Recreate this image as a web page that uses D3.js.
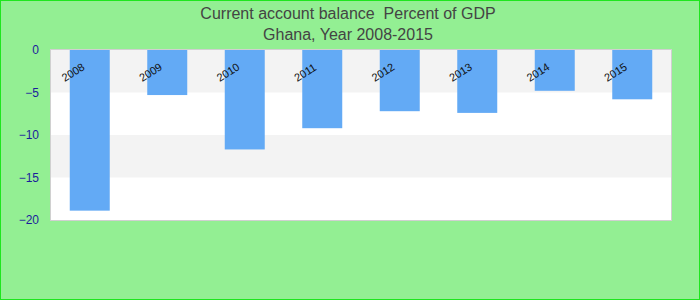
<!DOCTYPE html>
<html>
<head>
<meta charset="utf-8">
<title>Current account balance</title>
<script src="https://cdn.jsdelivr.net/npm/d3@7"></script>
<style>
  body { margin: 0; }
  text { font-family: "Liberation Sans", Arial, sans-serif; }
</style>
</head>
<body>
<script>
// data
var years = ["2008", "2009", "2010", "2011", "2012", "2013", "2014", "2015"];
var balance = [-18.9, -5.3, -11.7, -9.2, -7.2, -7.4, -4.8, -5.8];
var yTicks = [0, -5, -10, -15, -20];
var titleLines = ["Current account balance  Percent of GDP", "Ghana, Year 2008-2015"];

var width = 700, height = 300,
    margin = {top: 50, left: 51, right: 29, bottom: 80};

var svg = d3.select("body").append("svg")
    .attr("width", width)
    .attr("height", height);

// background + border
svg.append("rect")
    .attr("x", 0.5).attr("y", 0.5)
    .attr("width", width - 1).attr("height", height - 1)
    .attr("fill", "#93ef93")
    .attr("stroke", "#1ee61e");

var x = d3.scaleBand()
    .domain(years)
    .range([margin.left, width - margin.right])
    .paddingInner(0.484)
    .paddingOuter(0.242);

var y = d3.scaleLinear()
    .domain([0, -20])
    .range([margin.top, height - margin.bottom]);

// plot area
svg.append("rect")
    .attr("x", margin.left - 0.5)
    .attr("y", margin.top - 0.5)
    .attr("width", width - margin.left - margin.right + 1)
    .attr("height", y(-20) - y(0) + 1)
    .attr("fill", "#fff")
    .attr("stroke", "#d0d0d0");

// alternating bands
var bands = d3.pairs(yTicks).filter(function (d, i) { return i % 2 === 0; });
svg.append("g").selectAll("rect")
    .data(bands)
    .enter().append("rect")
    .attr("x", margin.left)
    .attr("y", function (d) { return y(d[0]); })
    .attr("width", width - margin.left - margin.right)
    .attr("height", function (d) { return y(d[1]) - y(d[0]); })
    .attr("fill", "#f3f3f3");

// bars
svg.append("g").selectAll("rect")
    .data(years)
    .enter().append("rect")
    .attr("x", function (d) { return x(d); })
    .attr("y", y(0))
    .attr("width", x.bandwidth())
    .attr("height", function (d, i) { return y(balance[i]) - y(0); })
    .attr("fill", "#63aaf5");

// y axis
var yAxis = d3.axisLeft(y).tickValues(yTicks).tickSize(0).tickPadding(12);
var yg = svg.append("g")
    .attr("transform", "translate(" + margin.left + ",0)")
    .call(yAxis);
yg.select(".domain").remove();
yg.selectAll("text")
    .attr("fill", "#1c1c9c")
    .style("font-size", "12px");

// year labels, rotated, inside the top band
svg.append("g").selectAll("text")
    .data(years)
    .enter().append("text")
    .attr("transform", function (d) {
        return "translate(" + (x(d) + x.bandwidth() / 2 - 25) + ",82) rotate(-32)";
    })
    .attr("fill", "#111")
    .style("font-size", "11px")
    .text(function (d) { return d; });

// title
svg.append("g").selectAll("text")
    .data(titleLines)
    .enter().append("text")
    .attr("x", 348)
    .attr("y", function (d, i) { return 19 + i * 21; })
    .attr("text-anchor", "middle")
    .attr("fill", "#444")
    .style("font-size", "16px")
    .style("white-space", "pre")
    .text(function (d) { return d; });
</script>
</body>
</html>
